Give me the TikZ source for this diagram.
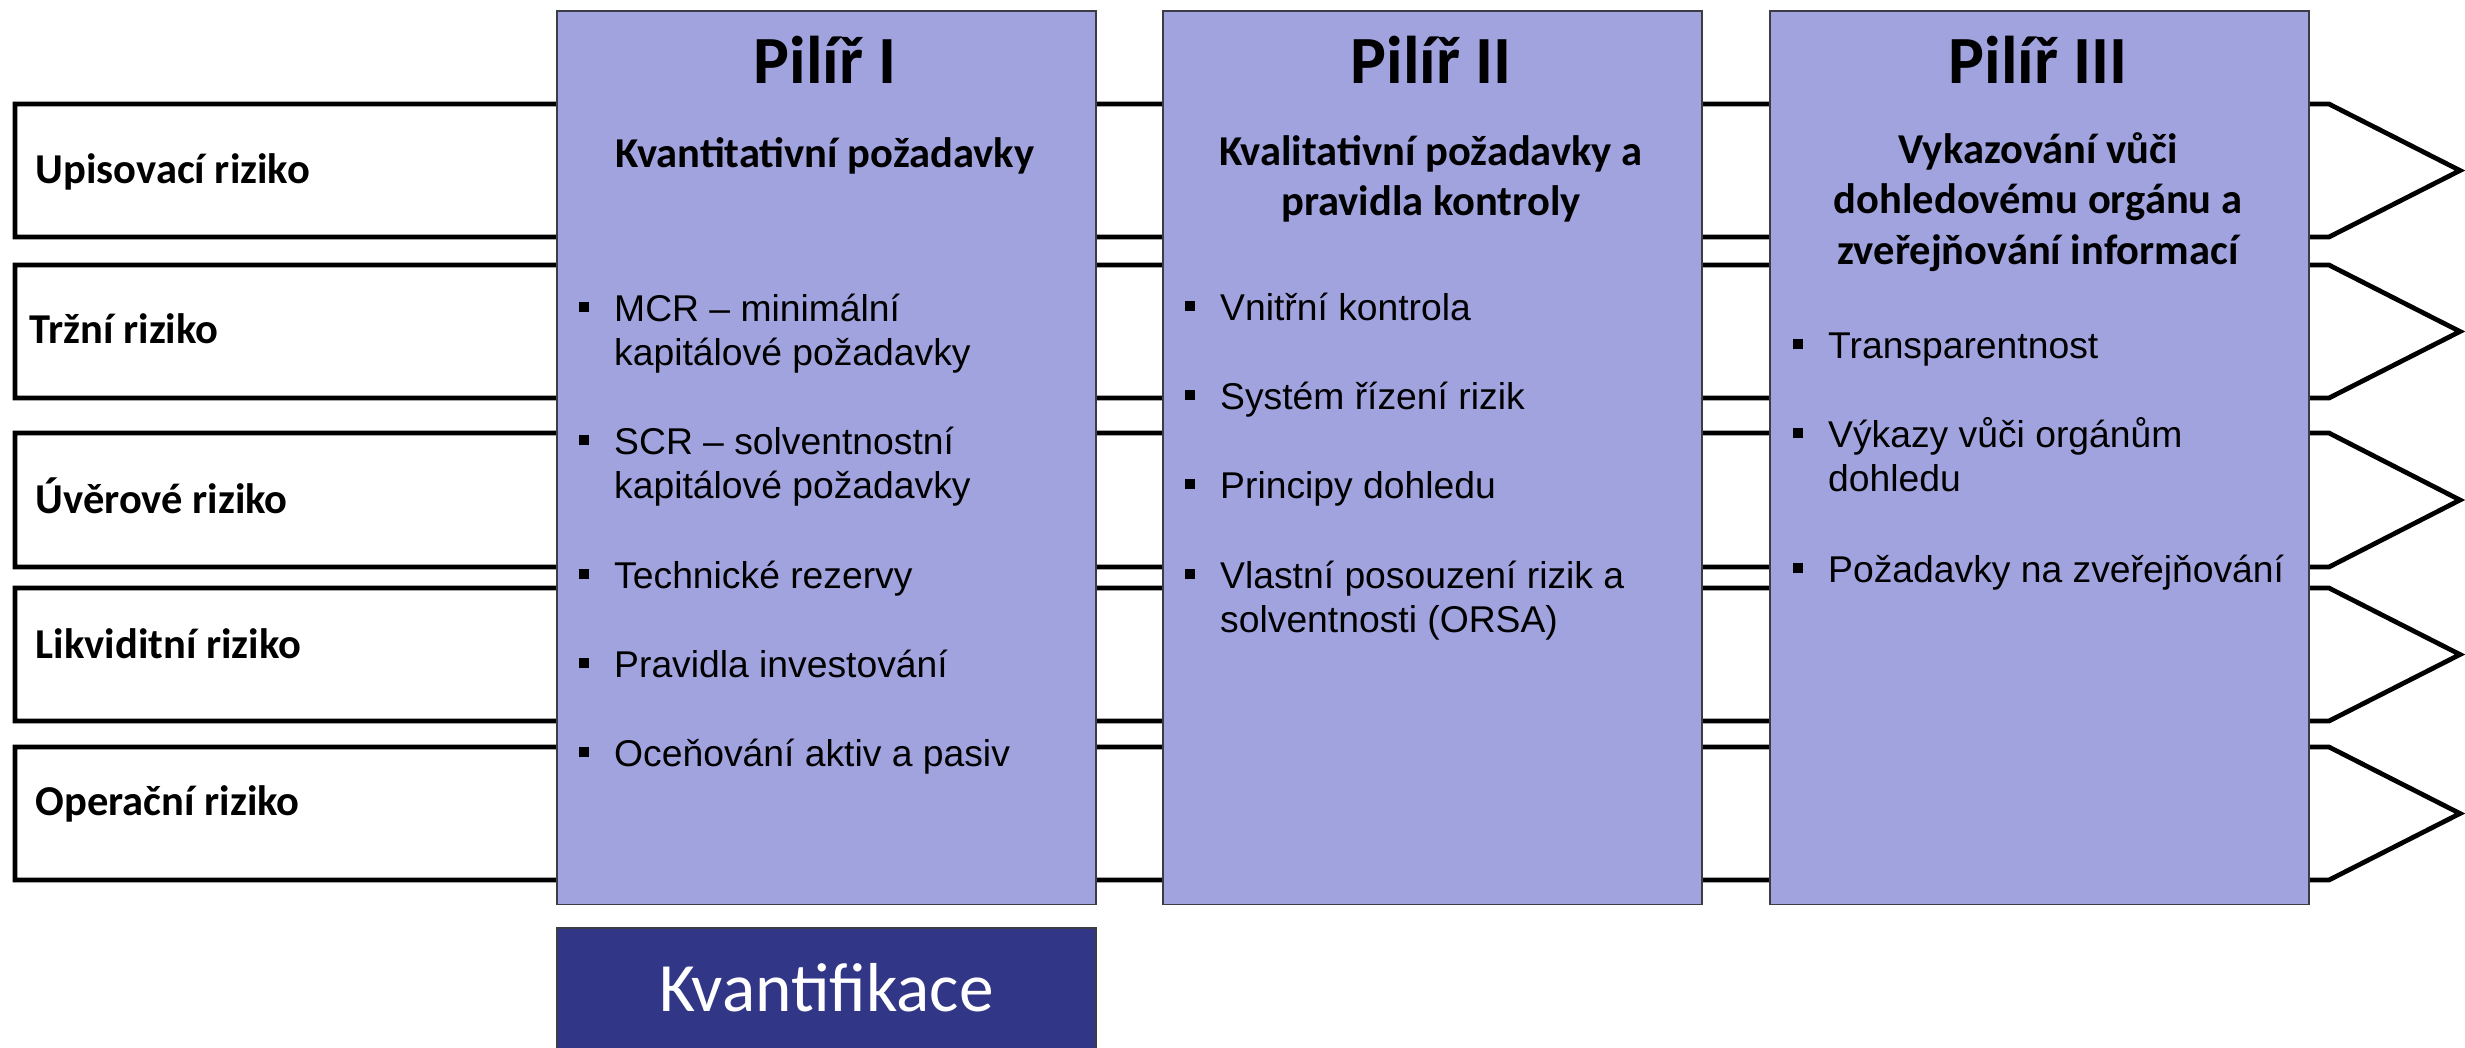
\documentclass[tikz,border=0pt]{standalone}
\usepackage{fontspec}
\setmainfont{Carlito}
\newfontfamily\arialfont{Liberation Sans}
\usetikzlibrary{positioning}
\definecolor{pillarblue}{HTML}{A0A3DE}
\definecolor{darknavy}{HTML}{323686}
\definecolor{edgegray}{HTML}{3C3C46}
\newcommand{\sqbul}{\rule[0.09cm]{0.1cm}{0.1cm}}
\newcommand{\lstack}[1]{\vtop{\halign{##\hfil\cr#1\crcr}}}
\newcommand{\cstack}[1]{\vtop{\halign{\hfil##\hfil\cr#1\crcr}}}
\newcommand{\bitem}[1]{\hbox to 0.355cm{\sqbul\hss}\lstack{#1}}
\tikzstyle{riskrow} = [draw=black, line width=1.35pt, fill=white, line join=miter]
\tikzstyle{risklabel} = [anchor=base west, inner sep=0pt, font=\fontsize{12.1}{14.4}\selectfont\bfseries]
\tikzstyle{pillar} = [rectangle, anchor=north west, minimum width=5.39cm, minimum height=8.93cm, inner sep=0pt, draw=edgegray, line width=0.45pt, fill=pillarblue]
\tikzstyle{heading} = [anchor=base, inner sep=0pt, font=\fontsize{19.2}{23}\selectfont\bfseries]
\tikzstyle{subhead} = [anchor=base, inner sep=0pt, font=\fontsize{12.1}{14.4}\selectfont\bfseries]
\tikzstyle{bulletitem} = [anchor=base west, inner sep=0pt, font=\arialfont\fontsize{10.6}{12.55}\selectfont]
\tikzstyle{resultbox} = [rectangle, minimum width=5.39cm, minimum height=1.3cm, inner sep=0pt, text height=0.37cm, text depth=0pt, draw=edgegray, line width=0.45pt, fill=darknavy, text=white, font=\fontsize{19.7}{23}\selectfont]

\begin{document}
\begin{tikzpicture}[x=0.01cm, y=-0.01cm]

\useasboundingbox (0,0) rectangle (2465,1047);

\draw [riskrow] (15,104) -- (2329,104) -- (2460,170.5) -- (2329,237) -- (15,237) -- cycle;
\draw [riskrow] (15,265) -- (2329,265) -- (2460,331.5) -- (2329,398) -- (15,398) -- cycle;
\draw [riskrow] (15,433) -- (2329,433) -- (2460,500) -- (2329,567) -- (15,567) -- cycle;
\draw [riskrow] (15,588) -- (2329,588) -- (2460,654.5) -- (2329,721) -- (15,721) -- cycle;
\draw [riskrow] (15,747) -- (2329,747) -- (2460,813.5) -- (2329,880) -- (15,880) -- cycle;

\node (upis) [risklabel] at (35,183) {Upisovací riziko};
\node (trzni) [risklabel] at (29,343) {Tržní riziko};
\node (uver) [risklabel] at (35,513) {Úvěrové riziko};
\node (likv) [risklabel] at (35,658) {Likviditní riziko};
\node (oper) [risklabel] at (35,815) {Operační riziko};

\node (pil1) [pillar] at (556,10) {};
\node (pil2) [pillar] at (1162,10) {};
\node (pil3) [pillar] at (1769,10) {};

\node (head1) [heading] at (825,83) {Pilíř I};
\node (head2) [heading] at (1431,83) {Pilíř II};
\node (head3) [heading] at (2038,83) {Pilíř III};

\node (sub1) [subhead] at (825,167) {Kvantitativní požadavky};
\node (sub2) [subhead] at (1431,165) {\cstack{Kvalitativní požadavky a\cr pravidla kontroly}};
\node (sub3) [subhead] at (2038,163) {\cstack{Vykazování vůči\cr dohledovému orgánu a\cr zveřejňování informací}};

\node (mcr) [bulletitem] at (578,321) {\bitem{MCR – minimální\cr kapitálové požadavky}};
\node (scr) [bulletitem] at (578,454) {\bitem{SCR – solventnostní\cr kapitálové požadavky}};
\node (rez) [bulletitem] at (578,588) {\bitem{Technické rezervy}};
\node (inv) [bulletitem] at (578,677) {\bitem{Pravidla investování}};
\node (ocen) [bulletitem] at (578,766) {\bitem{Oceňování aktiv a pasiv}};

\node (vnit) [bulletitem] at (1184,320) {\bitem{Vnitřní kontrola}};
\node (sys) [bulletitem] at (1184,409) {\bitem{Systém řízení rizik}};
\node (princ) [bulletitem] at (1184,498) {\bitem{Principy dohledu}};
\node (orsa) [bulletitem] at (1184,588) {\bitem{Vlastní posouzení rizik a\cr solventnosti (ORSA)}};

\node (transp) [bulletitem] at (1792,358) {\bitem{Transparentnost}};
\node (vykaz) [bulletitem] at (1792,447) {\bitem{Výkazy vůči orgánům\cr dohledu}};
\node (zver) [bulletitem] at (1792,582) {\bitem{Požadavky na zveřejňování}};

\node (kvant) [resultbox, below=0.22cm of pil1] {Kvantifikace};

\end{tikzpicture}
\end{document}
